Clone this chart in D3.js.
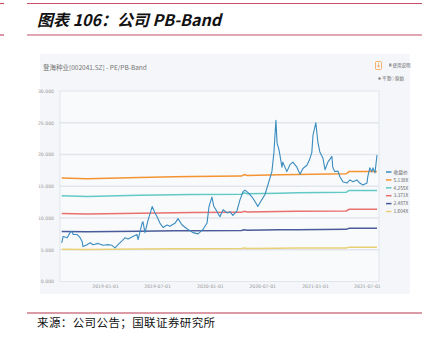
<!DOCTYPE html>
<html><head><meta charset="utf-8">
<script src="https://cdn.jsdelivr.net/npm/d3@7"></script>
<style>html,body{margin:0;padding:0;background:#fff;}svg{display:block;}</style>
</head><body>
<svg id="c" width="422" height="341"></svg>
<script>
// ---- data ----
const priceDates = ["2018-08-03","2018-08-08","2018-08-22","2018-09-01","2018-09-08","2018-09-12","2018-09-26","2018-10-06","2018-10-13","2018-10-16","2018-10-30","2018-11-10","2018-11-20","2018-12-08","2018-12-25","2019-01-08","2019-01-25","2019-02-05","2019-02-15","2019-03-01","2019-03-12","2019-03-22","2019-04-08","2019-04-22","2019-04-26","2019-05-03","2019-05-10","2019-05-13","2019-05-20","2019-05-31","2019-06-14","2019-06-24","2019-07-01","2019-07-11","2019-07-22","2019-08-05","2019-08-15","2019-09-02","2019-09-12","2019-09-26","2019-10-13","2019-11-03","2019-11-21","2019-12-08","2019-12-22","2019-12-29","2020-01-08","2020-01-15","2020-01-26","2020-02-05","2020-02-16","2020-03-01","2020-03-11","2020-03-21","2020-04-04","2020-04-15","2020-04-25","2020-05-02","2020-05-13","2020-05-27","2020-06-06","2020-06-16","2020-06-30","2020-07-11","2020-07-21","2020-08-04","2020-08-11","2020-08-18","2020-08-22","2020-08-29","2020-09-08","2020-09-11","2020-09-25","2020-10-06","2020-10-16","2020-10-30","2020-11-10","2020-11-20","2020-12-04","2020-12-14","2020-12-21","2020-12-25","2021-01-04","2021-01-11","2021-01-18","2021-01-29","2021-02-05","2021-02-15","2021-03-01","2021-03-04","2021-03-11","2021-03-22","2021-03-29","2021-04-08","2021-04-22","2021-05-03","2021-05-13","2021-05-27","2021-06-06","2021-06-17","2021-07-01","2021-07-04","2021-07-11","2021-07-18","2021-07-22","2021-07-29","2021-08-05"];
const priceValues = [6.1,7.1,6.9,7.7,7.9,7.4,7.4,6.9,6.3,5.5,5.8,6.1,5.8,6.0,5.7,5.8,5.7,5.3,5.8,6.4,6.9,6.7,7.1,7.4,6.6,7.9,9.2,9.4,7.7,9.7,11.8,10.8,10.2,9.2,8.5,8.9,8.7,9.2,9.9,8.9,8.3,7.7,7.5,8.2,9.2,11.8,13.3,11.8,11.0,10.2,11.3,10.8,11.0,10.4,11.1,12.9,14.1,14.4,14.0,13.3,12.6,11.8,12.9,13.7,15.2,17.3,20.3,25.4,21.8,20.7,18.0,18.8,17.3,18.4,18.8,18.0,16.9,17.8,18.3,19.3,20.3,23.0,25.0,22.0,20.4,19.4,17.6,18.8,19.7,18.0,17.3,17.4,16.5,15.7,15.5,16.0,15.7,16.0,15.5,15.2,15.5,16.5,17.9,17.3,17.9,17.1,19.9];

const bandDates = ["2018-08-03","2018-10-31","2019-04-30","2019-08-31","2019-10-31","2020-04-20","2020-04-30","2020-05-10","2020-08-31","2020-10-31","2021-04-20","2021-04-30","2021-08-05"];
const band1 = [16.29,16.18,16.39,16.49,16.54,16.60,16.85,16.70,16.80,16.85,16.96,17.31,17.31];
const band2 = [13.49,13.40,13.57,13.66,13.70,13.74,13.96,13.83,13.91,13.96,14.04,14.34,14.34];
const band3 = [10.69,10.62,10.75,10.82,10.85,10.89,11.06,10.96,11.02,11.06,11.12,11.36,11.36];
const band4 = [7.88,7.83,7.93,7.98,8.01,8.03,8.16,8.08,8.13,8.16,8.21,8.38,8.38];
const band5 = [5.08,5.05,5.12,5.15,5.16,5.18,5.26,5.21,5.25,5.26,5.29,5.41,5.41];

const seriesNames = ["收盘价","5.138X","4.255X","3.371X","2.487X","1.604X"];
const seriesColors = ["#3a8cbf","#f59331","#62c9c6","#e9706f","#4b5a98","#ead075"];
const xTickLabels = ["2019-01-01","2019-07-01","2020-01-01","2020-07-01","2021-01-01","2021-07-01"];
const yTickValues = [0,5,10,15,20,25,30];

// ---- drawing ----
const svg = d3.select("#c");
const parse = d3.timeParse("%Y-%m-%d");
const fontCJK = "'Noto Sans CJK SC','Noto Sans',sans-serif";

// header rules
const red = "#c8506a";
[[0,4],[27,422]].forEach(([a,b])=>{
  [3.5,35].forEach(yy=>svg.append("line").attr("x1",a).attr("x2",b).attr("y1",yy).attr("y2",yy)
    .attr("stroke",red).attr("stroke-width",1.2));
});
svg.append("text").attr("x",37).attr("y",26).text("图表 106：公司 PB-Band")
  .attr("font-family",fontCJK).attr("font-size",16).attr("font-style","italic")
  .attr("font-weight",700).attr("fill","#111");

// panel
svg.append("rect").attr("x",40).attr("y",54).attr("width",370).attr("height",240).attr("fill","#f4f6f9");
svg.append("text").attr("x",43).attr("y",70).text("登海种业[002041.SZ] - PE/PB-Band")
  .attr("font-family",fontCJK).attr("font-size",6.5).attr("fill","#777");
// top-right controls
svg.append("rect").attr("x",375.5).attr("y",61.5).attr("width",6).attr("height",8).attr("fill","none")
  .attr("stroke","#f4a04a").attr("stroke-width",0.8).attr("rx",1);
svg.append("path").attr("d","M378.5,63 V67 M376.8,65.5 L378.5,67 L380.2,65.5").attr("stroke","#f4a04a").attr("stroke-width",0.7).attr("fill","none");
svg.append("rect").attr("x",389).attr("y",63.5).attr("width",2.5).attr("height",3).attr("fill","#999");
svg.append("text").attr("x",392.5).attr("y",67).text("使用说明").attr("font-family",fontCJK).attr("font-size",4.5).attr("fill","#666");
svg.append("circle").attr("cx",379.5).attr("cy",78.5).attr("r",1.3).attr("fill","#888");
svg.append("text").attr("x",382).attr("y",80).text("平滑").attr("font-family",fontCJK).attr("font-size",4.5).attr("fill","#666");
svg.append("circle").attr("cx",392.5).attr("cy",78.5).attr("r",1.6).attr("fill","none").attr("stroke","#bbb").attr("stroke-width",0.5);
svg.append("text").attr("x",395).attr("y",80).text("原始").attr("font-family",fontCJK).attr("font-size",4.5).attr("fill","#666");

// scales
const x = d3.scaleTime().domain([parse("2018-07-28"),parse("2021-08-12")]).range([60,379]);
const y = d3.scaleLinear().domain([0,30]).range([281.5,91]);

// plot area
svg.append("rect").attr("x",60).attr("y",91).attr("width",319).attr("height",190.5)
  .attr("fill","#f9fafc").attr("stroke","#dde1e8").attr("stroke-width",0.8);

// grid
svg.append("g").selectAll("line").data(yTickValues.filter(v=>v>0&&v<30)).join("line")
  .attr("x1",60).attr("x2",379).attr("y1",d=>y(d)).attr("y2",d=>y(d))
  .attr("stroke","#e2e5eb").attr("stroke-width",1.3);

// y axis
const yAxis = d3.axisLeft(y).tickValues(yTickValues).tickFormat(d3.format(".3f")).tickSize(0).tickPadding(6);
const gy = svg.append("g").attr("transform","translate(60,0)").call(yAxis);
gy.select(".domain").remove();
gy.selectAll("text").attr("font-family","'DejaVu Sans',sans-serif").attr("font-size",4.6).attr("fill","#999");

// x axis
const xAxis = d3.axisBottom(x).tickValues(xTickLabels.map(parse)).tickFormat(d3.timeFormat("%Y-%m-%d")).tickSize(0).tickPadding(3);
const gx = svg.append("g").attr("transform","translate(0,281.5)").call(xAxis);
gx.select(".domain").remove();
gx.selectAll("text").attr("font-family","'DejaVu Sans',sans-serif").attr("font-size",4.6).attr("fill","#999");

// bands
const bands = [band1,band2,band3,band4,band5];
const line = d3.line().x(d=>x(d[0])).y(d=>y(d[1]));
bands.slice().reverse().forEach((b,i)=>{
  const idx = bands.length - i;
  svg.append("path").datum(bandDates.map((d,j)=>[parse(d),b[j]]))
    .attr("d",line).attr("fill","none").attr("stroke",seriesColors[idx]).attr("stroke-width",1.5);
});
// price
svg.append("path").datum(priceDates.map((d,j)=>[parse(d),priceValues[j]]))
  .attr("d",line).attr("fill","none").attr("stroke",seriesColors[0]).attr("stroke-width",1.1)
  .attr("stroke-linejoin","round");

// legend
const lg = svg.append("g");
seriesNames.forEach((n,i)=>{
  const yy = 172 + i*7.9;
  lg.append("line").attr("x1",386).attr("x2",391.5).attr("y1",yy).attr("y2",yy)
    .attr("stroke",seriesColors[i]).attr("stroke-width",1.5);
  lg.append("text").attr("x",393.5).attr("y",yy+1.7).text(n)
    .attr("font-family",fontCJK).attr("font-size",4.8).attr("fill","#666");
});

// footer
svg.append("line").attr("x1",27).attr("x2",422).attr("y1",313).attr("y2",313).attr("stroke","#b8394f").attr("stroke-width",1.2);
svg.append("text").attr("x",37).attr("y",327).text("来源：公司公告；国联证券研究所")
  .attr("font-family",fontCJK).attr("font-size",11.5).attr("letter-spacing",0.4).attr("fill","#111");
</script>
</body></html>
